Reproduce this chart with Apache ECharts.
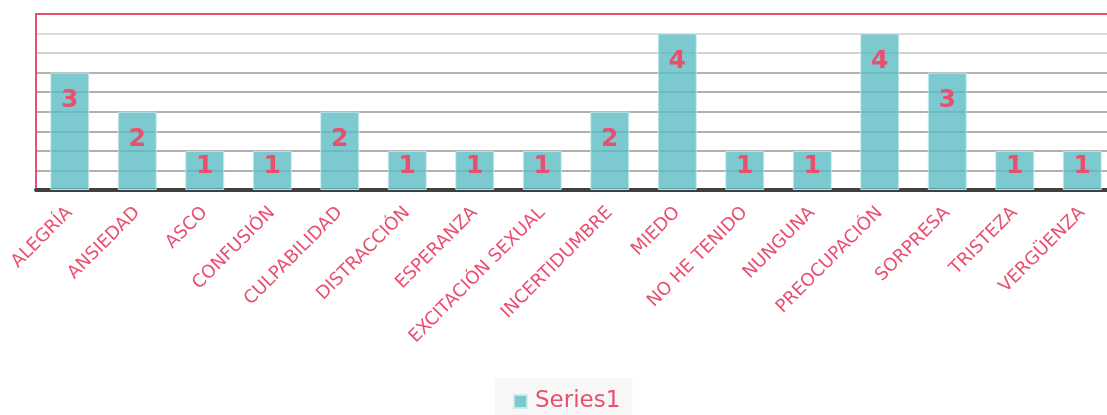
<!DOCTYPE html>
<html>
<head>
<meta charset="utf-8">
<script src="https://cdn.jsdelivr.net/npm/echarts@6/dist/echarts.min.js"></script>
<style>
html,body{margin:0;padding:0;background:#fff;}
#c{width:1107px;height:415px;}
</style>
</head>
<body>
<div id="c"></div>
<script>
var categories = ["ALEGRÍA","ANSIEDAD","ASCO","CONFUSIÓN","CULPABILIDAD","DISTRACCIÓN","ESPERANZA","EXCITACIÓN SEXUAL","INCERTIDUMBRE","MIEDO","NO HE TENIDO","NUNGUNA","PREOCUPACIÓN","SORPRESA","TRISTEZA","VERGÜENZA"];
var series1 = [3,2,1,1,2,1,1,1,2,4,1,1,4,3,1,1];
var seriesName = "Series1";

var RED = '#e9506f';
var chart = echarts.init(document.getElementById('c'));
chart.setOption({
  animation: false,
  textStyle: {fontFamily: 'DejaVu Sans'},
  grid: {left: 36, top: 14, right: -9, bottom: 225, show: true, borderColor: RED, borderWidth: 2, containLabel: false, outerBoundsMode: 'none'},
  legend: {
    data: [seriesName], left: 495, top: 378,
    backgroundColor: '#f7f7f7', padding: [12, 12, 10, 18],
    icon: 'rect', itemWidth: 13, itemHeight: 13, itemGap: 8,
    textStyle: {color: RED, fontSize: 23, fontFamily: 'DejaVu Sans', padding: [0, 0, 0, 3]}
  },
  xAxis: {
    type: 'category', data: categories,
    axisLine: {lineStyle: {color: '#404040', width: 4}},
    axisTick: {show: false},
    axisLabel: {rotate: 45, interval: 0, color: RED, fontSize: 18, margin: 20, fontFamily: 'DejaVu Sans'}
  },
  yAxis: {
    type: 'value', min: 0, max: 4.5, interval: 0.5,
    axisLine: {show: true, lineStyle: {color: RED, width: 2}},
    axisTick: {show: false},
    axisLabel: {show: false},
    splitLine: {lineStyle: {color: ['#ffffff','#b0b0b0','#b0b0b0','#b0b0b0','#b0b0b0','#b0b0b0','#b4b4b4','#d2d2d2','#dcdcdc', RED], width: 2}}
  },
  series: [{
    name: seriesName, type: 'bar', data: series1, barWidth: 39,
    itemStyle: {color: 'rgba(91,189,196,0.8)', borderColor: 'rgba(200,235,238,0.9)', borderWidth: 1},
    label: {show: true, color: RED, fontSize: 25, fontWeight: 'bold', fontFamily: 'DejaVu Sans'},
    labelLayout: function (p) {
      var r = p.rect;
      return {x: r.x + r.width / 2, y: r.y + Math.min(28, r.height * 0.4), align: 'center', verticalAlign: 'middle'};
    }
  }]
});
</script>
</body>
</html>
